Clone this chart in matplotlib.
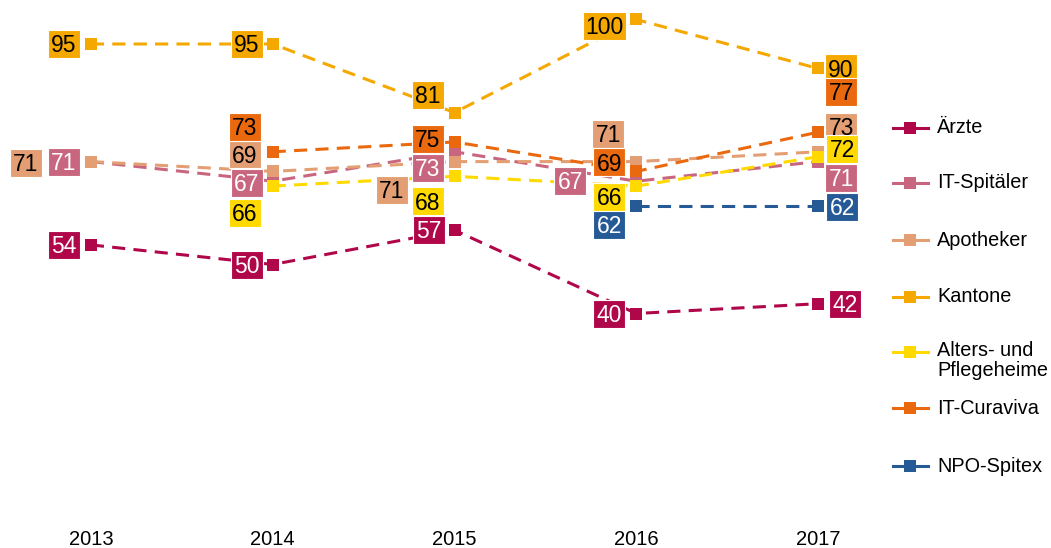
import matplotlib.pyplot as plt
from matplotlib.lines import Line2D
from matplotlib.patches import Rectangle
from matplotlib.transforms import Affine2D, ScaledTranslation

plt.rcParams['font.family'] = ['Liberation Sans', 'DejaVu Sans']

years = [2013, 2014, 2015, 2016, 2017]
series_names = ['Ärzte', 'IT-Spitäler', 'Apotheker', 'Kantone',
                'Alters- und\nPflegeheime', 'IT-Curaviva', 'NPO-Spitex']

aerzte = [54, 50, 57, 40, 42]
it_spitaeler = [71, 67, 73, 67, 71]
apotheker = [71, 69, 71, 71, 73]
kantone = [95, 95, 81, 100, 90]
alters = [None, 66, 68, 66, 72]
curaviva = [None, 73, 75, 69, 77]
spitex = [None, None, None, 62, 62]

series_values = [aerzte, it_spitaeler, apotheker, kantone, alters, curaviva, spitex]

colors = ['#b0074a', '#c9667f', '#e39f73', '#f5a800', '#ffd900', '#ea690e', '#255a96']
text_colors = ['white', 'white', 'black', 'black', 'black', 'black', 'white']

# label offsets from the marker in pixels (dx right, dy down), per series per year
label_offsets = [
    [(-27, 0), (-26, 0), (-26, 0), (-27, 0), (27, 0)],
    [(-27, 0), (-26, 2), (-27, 16), (-66, 0), (23, 16)],
    [(-65, 1), (-28, -17), (-63, 28), (-28, -28), (23, -25)],
    [(-27, 0), (-26, 0), (-27, -18), (-32, 6), (23, 0)],
    [None, (-28, 27), (-27, 25), (-27, 11), (24, -8)],
    [None, (-28, -25), (-27, -3), (-27, -9), (23, -40)],
    [None, None, None, (-27, 19), (24, 1)],
]

W, H = 1051, 548
fig = plt.figure(figsize=(W / 100, H / 100), dpi=100)
ax = fig.add_axes([0, (H - 509.5) / H, 909 / W, 490 / H])
ax.set_xlim(2012.5, 2017.5)
ax.set_ylim(0, 100)

fs = 16.5
cap_px = 0.716 * fs * 100 / 72
for vals, col, tcol, offs in zip(series_values, colors, text_colors, label_offsets):
    xs = [x for x, v in zip(years, vals) if v is not None]
    ys = [v for v in vals if v is not None]
    ax.plot(xs, ys, color=col, lw=2.2, dashes=(4.3, 2.7), marker='s',
            markersize=8, markeredgewidth=0, zorder=2, clip_on=False)
    for x, v, off in zip(years, vals, offs):
        if v is None:
            continue
        bw = 32 if v < 100 else 43
        bh = 28
        tr = Affine2D().translate(off[0] - bw / 2, -off[1] - bh / 2) + \
            ScaledTranslation(x, v, ax.transData)
        ax.add_patch(Rectangle((0, 0), bw, bh, transform=tr, fc=col, ec='white',
                               lw=0.8, zorder=4, clip_on=False))
        ax.annotate(str(v), (x, v), xytext=(off[0], -off[1] - cap_px / 2),
                    textcoords='offset pixels', ha='center', va='baseline',
                    fontsize=fs, color=tcol, zorder=5, annotation_clip=False)

for s in ax.spines.values():
    s.set_visible(False)
ax.set_yticks([])
ax.set_xticks(years)
ax.set_xticklabels([str(y) for y in years], fontsize=14.5)
ax.tick_params(axis='x', length=0, pad=15)

# legend drawn by hand
leg_y = [128, 183, 240, 297, 352, 408, 466]
for name, col, y in zip(series_names, colors, leg_y):
    fy = 1 - y / H
    fig.add_artist(Line2D([893 / W, 928 / W], [fy, fy], color=col, lw=2.2))
    fig.add_artist(Line2D([910.5 / W], [fy], color=col, marker='s', markersize=8,
                          markeredgewidth=0))
    if '\n' in name:
        fig.text(937 / W, 1 - (y - 11) / H, name, fontsize=14.3, va='top', ha='left',
                 linespacing=1.1)
    else:
        fig.text(937 / W, fy, name, fontsize=14.3, va='center', ha='left')

fig.savefig('out.png', dpi=100)
